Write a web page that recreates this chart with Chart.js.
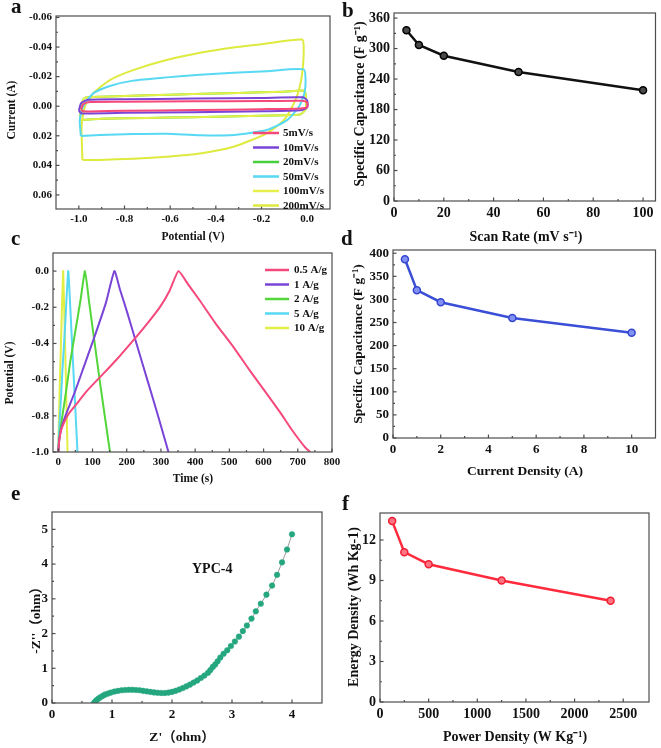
<!DOCTYPE html>
<html>
<head>
<meta charset="utf-8">
<script src="https://cdn.jsdelivr.net/npm/chart.js@4.4.1/dist/chart.umd.min.js"></script>
<style>
  html, body { margin: 0; padding: 0; background: #fff; }
  #wrap { position: relative; width: 661px; height: 748px; overflow: hidden; }
  #wrap canvas { position: absolute; left: 0; top: 0; }
</style>
</head>
<body>
<div id="wrap">
  <canvas id="pa" width="661" height="748"></canvas>
  <canvas id="pb" width="661" height="748"></canvas>
  <canvas id="pc" width="661" height="748"></canvas>
  <canvas id="pd" width="661" height="748"></canvas>
  <canvas id="pe" width="661" height="748"></canvas>
  <canvas id="pf" width="661" height="748"></canvas>
</div>
<script>
// ---- panel a : CV loops, [potential V, current A] ----
const cvLabels = ['5mV/s', '10mV/s', '20mV/s', '50mV/s', '100mV/s', '200mV/s'];
const cv5 = [[-0.99,0.002],[-0.98,-0.0015],[-0.95,-0.0028],[-0.8,-0.003],[-0.5,-0.0033],[-0.2,-0.0035],[-0.02,-0.0037],[0,-0.0025],[0,0.0005],[-0.03,0.0015],[-0.2,0.002],[-0.5,0.0026],[-0.8,0.0031],[-0.95,0.0035],[-0.985,0.0032],[-0.99,0.002]];
const cv10 = [[-1.0,0.003],[-0.99,-0.002],[-0.96,-0.0043],[-0.8,-0.0047],[-0.5,-0.0052],[-0.2,-0.0056],[-0.02,-0.006],[0,-0.004],[0,0.0008],[-0.03,0.0028],[-0.2,0.0034],[-0.5,0.004],[-0.8,0.0045],[-0.95,0.005],[-0.99,0.0047],[-1.0,0.003]];
const cv20 = [[-0.995,0.009],[-0.99,0],[-0.975,-0.0055],[-0.9,-0.0064],[-0.7,-0.0074],[-0.5,-0.0082],[-0.3,-0.009],[-0.1,-0.0098],[-0.015,-0.0105],[-0.007,-0.008],[-0.007,0.002],[-0.03,0.0055],[-0.1,0.0061],[-0.3,0.0068],[-0.5,0.0074],[-0.7,0.0079],[-0.9,0.0085],[-0.98,0.0092],[-0.995,0.009]];
const cv50 = [[-0.991,0.0201],[-0.996,0.0093],[-0.982,0.0004],[-0.937,-0.0087],[-0.864,-0.0137],[-0.762,-0.0173],[-0.616,-0.0195],[-0.469,-0.0213],[-0.323,-0.0226],[-0.177,-0.0237],[-0.015,-0.0249],[-0.007,-0.0177],[-0.012,-0.0087],[-0.036,0.0004],[-0.088,0.0094],[-0.177,0.0161],[-0.323,0.0195],[-0.469,0.0197],[-0.616,0.0186],[-0.762,0.0188],[-0.908,0.0195],[-0.991,0.0201]];
const cv100 = [[-0.995,0.009],[-0.99,0],[-0.975,-0.0055],[-0.9,-0.0064],[-0.7,-0.0074],[-0.5,-0.0082],[-0.3,-0.009],[-0.1,-0.0098],[-0.015,-0.0105],[-0.007,-0.008],[-0.007,0.002],[-0.03,0.0055],[-0.1,0.0061],[-0.3,0.0068],[-0.5,0.0074],[-0.7,0.0079],[-0.9,0.0085],[-0.98,0.0092],[-0.995,0.009]];
const cv200 = [[-0.984,0.0363],[-0.988,0.0139],[-0.974,0.0004],[-0.937,-0.0087],[-0.864,-0.0177],[-0.762,-0.0244],[-0.616,-0.0312],[-0.469,-0.0361],[-0.323,-0.0397],[-0.177,-0.0424],[-0.022,-0.0451],[-0.015,-0.0379],[-0.022,-0.0222],[-0.036,-0.0109],[-0.058,-0.0019],[-0.102,0.0094],[-0.177,0.0183],[-0.323,0.0274],[-0.469,0.0319],[-0.616,0.0341],[-0.762,0.0355],[-0.908,0.0363],[-0.984,0.0363]];
const aXMajor = [-1.0, -0.8, -0.6, -0.4, -0.2, 0];
const aXMinor = [-0.9, -0.7, -0.5, -0.3, -0.1];
const aYMajor = [-0.06, -0.04, -0.02, 0, 0.02, 0.04, 0.06];
const aYMinor = [-0.05, -0.03, -0.01, 0.01, 0.03, 0.05];

// ---- panel b ----
const scanRate = [5, 10, 20, 50, 100];
const capScan = [336, 307, 286, 254, 218];
const bXMajor = [0, 20, 40, 60, 80, 100];
const bXMinor = [10, 30, 50, 70, 90];
const bYMajor = [0, 60, 120, 180, 240, 300, 360];
const bYMinor = [30, 90, 150, 210, 270, 330];

// ---- panel c : GCD, [time s, potential V] ----
const gcdLabels = ['0.5 A/g', '1 A/g', '2 A/g', '5 A/g', '10 A/g'];
const gcd05 = [[0,-1.0],[3,-0.93],[8,-0.88],[15,-0.845],[30,-0.79],[54,-0.733],[80,-0.67],[122,-0.586],[170,-0.49],[219,-0.383],[260,-0.29],[297,-0.199],[325,-0.11],[351,0],[380,-0.075],[414,-0.164],[460,-0.29],[512,-0.42],[560,-0.55],[609,-0.677],[650,-0.785],[680,-0.87],[705,-0.935],[722,-0.975],[736,-1.0]];
const gcd1 = [[0,-1.0],[3,-0.93],[10,-0.86],[25,-0.78],[50,-0.66],[80,-0.5],[110,-0.34],[140,-0.17],[164,0],[180,-0.1],[200,-0.22],[230,-0.41],[260,-0.6],[290,-0.79],[322,-1.0]];
const gcd2 = [[0,-1.0],[2,-0.94],[8,-0.85],[20,-0.7],[35,-0.5],[50,-0.33],[65,-0.16],[78,0],[90,-0.17],[105,-0.38],[120,-0.59],[135,-0.79],[151,-1.0]];
const gcd5 = [[0,-1.0],[1,-0.93],[5,-0.8],[12,-0.55],[20,-0.3],[29,0],[35,-0.2],[42,-0.47],[49,-0.73],[56,-1.0]];
const gcd10 = [[0,-1.0],[1,-0.9],[4,-0.65],[8,-0.38],[14,0],[17,-0.2],[21,-0.5],[24,-0.75],[27,-1.0]];
const cXMajor = [0, 100, 200, 300, 400, 500, 600, 700, 800];
const cXMinor = [50, 150, 250, 350, 450, 550, 650, 750];
const cYMajor = [-1.0, -0.8, -0.6, -0.4, -0.2, 0];
const cYMinor = [-0.9, -0.7, -0.5, -0.3, -0.1];

// ---- panel d ----
const currentDensity = [0.5, 1, 2, 5, 10];
const capCurrent = [387, 320, 294, 260, 228];
const dXMajor = [0, 2, 4, 6, 8, 10];
const dXMinor = [1, 3, 5, 7, 9];
const dYMajor = [0, 50, 100, 150, 200, 250, 300, 350, 400];
const dYMinor = [25, 75, 125, 175, 225, 275, 325, 375];

// ---- panel e : Nyquist, [Z', -Z''] ----
const nyquist = [[0.70,0.00],[0.72,0.04],[0.74,0.08],[0.77,0.12],[0.80,0.16],[0.84,0.20],[0.88,0.24],[0.93,0.27],[0.98,0.30],[1.04,0.33],[1.10,0.35],[1.16,0.365],[1.22,0.375],[1.28,0.38],[1.34,0.38],[1.40,0.375],[1.46,0.365],[1.52,0.35],[1.58,0.335],[1.64,0.32],[1.70,0.305],[1.76,0.295],[1.82,0.29],[1.88,0.29],[1.94,0.30],[2.00,0.32],[2.06,0.35],[2.12,0.39],[2.18,0.43],[2.24,0.48],[2.30,0.53],[2.36,0.59],[2.42,0.65],[2.48,0.72],[2.54,0.79],[2.60,0.87],[2.64,0.95],[2.68,1.04],[2.72,1.11],[2.76,1.20],[2.805,1.31],[2.86,1.42],[2.921,1.52],[2.982,1.64],[3.048,1.77],[3.115,1.91],[3.181,2.07],[3.248,2.23],[3.325,2.43],[3.397,2.64],[3.48,2.86],[3.574,3.12],[3.668,3.38],[3.751,3.69],[3.834,4.05],[3.917,4.42],[4.0,4.86]];
const eXMajor = [0, 1, 2, 3, 4];
const eXMinor = [0.5, 1.5, 2.5, 3.5];
const eYMajor = [0, 1, 2, 3, 4, 5];
const eYMinor = [0.5, 1.5, 2.5, 3.5, 4.5];

// ---- panel f ----
const powerDensity = [125, 250, 500, 1250, 2370];
const energyDensity = [13.4, 11.1, 10.2, 9.0, 7.5];
const fXMajor = [0, 500, 1000, 1500, 2000, 2500];
const fXMinor = [250, 750, 1250, 1750, 2250];
const fYMajor = [0, 3, 6, 9, 12];
const fYMinor = [1.5, 4.5, 7.5, 10.5];

const SERIF = '"Liberation Serif", "Noto Sans CJK SC", serif';
Chart.defaults.animation = false;
Chart.defaults.events = [];
Chart.defaults.font.family = SERIF;

const pts = arr => arr.map(p => ({ x: p[0], y: p[1] }));
const zip = (xs, ys) => xs.map((x, i) => ({ x, y: ys[i] }));

// frame, inward ticks, titles, letter, legend, note
const panelPlugin = {
  id: 'panel',
  afterDraw(chart, args, o) {
    const ctx = chart.ctx, a = chart.chartArea;
    ctx.save();
    ctx.strokeStyle = '#4d4d4d';
    ctx.lineWidth = 1.2;
    ctx.strokeRect(a.left, a.top, a.right - a.left, a.bottom - a.top);
    ['x', 'y'].forEach(id => {
      const s = chart.scales[id];
      s.ticks.forEach(t => {
        const len = t.minor ? 2 : 3.5;
        const p = s.getPixelForValue(t.value);
        ctx.beginPath();
        if (id === 'x') { ctx.moveTo(p, a.bottom); ctx.lineTo(p, a.bottom - len); }
        else { ctx.moveTo(a.left, p); ctx.lineTo(a.left + len, p); }
        ctx.stroke();
      });
    });
    ctx.fillStyle = '#111';
    ctx.textAlign = 'left';
    ctx.textBaseline = 'alphabetic';
    ctx.font = 'bold ' + o.letterSize + 'px ' + SERIF;
    ctx.fillText(o.letter, o.letterX, o.letterY);

    ctx.font = 'bold ' + o.titleSize + 'px ' + SERIF;
    ctx.textAlign = 'center';
    ctx.textBaseline = 'middle';
    ctx.fillText(o.xTitle, o.xTitleX, o.xTitleY);
    ctx.save();
    ctx.translate(o.yTitleX, o.yTitleY);
    ctx.rotate(-Math.PI / 2);
    ctx.fillText(o.yTitle, 0, 0);
    ctx.restore();

    if (o.legend) {
      const L = o.legend;
      ctx.font = 'bold ' + L.size + 'px ' + SERIF;
      ctx.textAlign = 'left';
      chart.data.datasets.forEach((ds, i) => {
        const y = L.y + i * L.dy;
        ctx.strokeStyle = ds.borderColor;
        ctx.lineWidth = 2.5;
        ctx.beginPath();
        ctx.moveTo(L.x, y);
        ctx.lineTo(L.x + L.len, y);
        ctx.stroke();
        ctx.fillText(ds.label, L.x + L.len + L.gap, y + 0.5);
      });
    }
    if (o.note) {
      ctx.font = 'bold ' + o.note.size + 'px ' + SERIF;
      ctx.textAlign = 'center';
      ctx.fillText(o.note.text,
        chart.scales.x.getPixelForValue(o.note.x),
        chart.scales.y.getPixelForValue(o.note.y));
    }
    ctx.restore();
  }
};

const YW = 44, XH = 22;
function box(L, T, R, B) {
  return { left: L - YW, top: T, right: 661 - R, bottom: 748 - B - XH };
}

function axis(pos, min, max, major, minor, fmt, size, reverse) {
  return {
    type: 'linear', position: pos, min: min, max: max, reverse: !!reverse,
    grid: { display: false, drawTicks: false },
    border: { display: false },
    afterBuildTicks: s => {
      s.ticks = major.map(v => ({ value: v }))
        .concat(minor.map(v => ({ value: v, minor: true })))
        .sort((p, q) => p.value - q.value);
    },
    afterFit: s => { if (pos === 'left') s.width = YW; else s.height = XH; },
    ticks: {
      autoSkip: false, maxRotation: 0, minRotation: 0,
      padding: 4,
      color: '#111',
      font: { family: SERIF, weight: 'bold', size: size },
      callback: (v, i, t) => (t[i].minor ? '' : fmt(v))
    }
  };
}

function make(id, type, datasets, pad, xAxis, yAxis, panel) {
  return new Chart(document.getElementById(id), {
    type: type,
    data: { datasets: datasets },
    plugins: [panelPlugin],
    options: {
      responsive: false,
      layout: { padding: pad },
      scales: { x: xAxis, y: yAxis },
      plugins: { legend: { display: false }, tooltip: { enabled: false }, panel: panel }
    }
  });
}

const f0 = v => String(v);
const f1 = v => v.toFixed(1);
const f2 = v => v.toFixed(2);

function loop(label, data, color, order) {
  return { label: label, data: pts(data), showLine: true, borderColor: color, borderWidth: 2,
           pointRadius: 0, tension: 0.2, fill: false, order: order || 0 };
}

// a
const cvColors = ['#f5497c', '#7a44d6', '#45d03c', '#57d8f3', '#e6f048', '#dfea3e'];
make('pa', 'scatter', [
  loop(cvLabels[0], cv5, cvColors[0]),
  loop(cvLabels[1], cv10, cvColors[1]),
  loop(cvLabels[2], cv20, cvColors[2], 1),
  loop(cvLabels[3], cv50, cvColors[3]),
  loop(cvLabels[4], cv100, cvColors[4]),
  loop(cvLabels[5], cv200, cvColors[5])
], box(56, 16, 330, 209),
  axis('bottom', -1.1, 0.1, aXMajor, aXMinor, f1, 11),
  axis('left', -0.061, 0.0695, aYMajor, aYMinor, f2, 11, true),
  { letter: 'a', letterX: 11, letterY: 13, letterSize: 21,
    xTitle: 'Potential (V)', xTitleX: 193, xTitleY: 237,
    yTitle: 'Current (A)', yTitleX: 12, yTitleY: 110, titleSize: 11.5,
    legend: { x: 253, y: 133, dy: 14.5, len: 26, gap: 4, size: 11 } });

// b
make('pb', 'scatter', [{
  label: 'b', data: zip(scanRate, capScan), showLine: true,
  borderColor: '#111', borderWidth: 2.5, pointRadius: 3.5,
  pointBackgroundColor: '#4a4a4a', pointBorderColor: '#000', pointBorderWidth: 1.5
}], box(394, 13, 658, 201),
  axis('bottom', 0, 105, bXMajor, bXMinor, f0, 14),
  axis('left', 0, 370, bYMajor, bYMinor, f0, 14),
  { letter: 'b', letterX: 342, letterY: 17, letterSize: 21,
    xTitle: 'Scan Rate (mV s\u207B\u00B9)', xTitleX: 526, xTitleY: 237,
    yTitle: 'Specific Capacitance (F g\u207B\u00B9)', yTitleX: 360, yTitleY: 104, titleSize: 14,
    legend: false });

// c
const gcdColors = ['#f5497c', '#7a44d6', '#52d63a', '#57d8f3', '#e3ee45'];
make('pc', 'scatter', [
  loop(gcdLabels[0], gcd05, gcdColors[0]),
  loop(gcdLabels[1], gcd1, gcdColors[1]),
  loop(gcdLabels[2], gcd2, gcdColors[2]),
  loop(gcdLabels[3], gcd5, gcdColors[3]),
  loop(gcdLabels[4], gcd10, gcdColors[4])
].map(d => Object.assign(d, { tension: 0.15 })), box(53, 253, 332, 452),
  axis('bottom', -15.5, 800, cXMajor, cXMinor, f0, 11),
  axis('left', -1.0, 0.1, cYMajor, cYMinor, f1, 11),
  { letter: 'c', letterX: 11, letterY: 245, letterSize: 21,
    xTitle: 'Time (s)', xTitleX: 193, xTitleY: 479,
    yTitle: 'Potential (V)', yTitleX: 10, yTitleY: 373, titleSize: 11.5,
    legend: { x: 265, y: 270, dy: 14.5, len: 24, gap: 5, size: 11 } });

// d
make('pd', 'scatter', [{
  label: 'd', data: zip(currentDensity, capCurrent), showLine: true,
  borderColor: '#3a4ed6', borderWidth: 2.5, pointRadius: 3.5,
  pointBackgroundColor: '#8391f2', pointBorderColor: '#3446d0', pointBorderWidth: 1.5
}], box(393, 250, 658, 438),
  axis('bottom', 0, 11, dXMajor, dXMinor, f0, 13),
  axis('left', 0, 407, dYMajor, dYMinor, f0, 13),
  { letter: 'd', letterX: 341, letterY: 245, letterSize: 21,
    xTitle: 'Current Density (A)', xTitleX: 525, xTitleY: 472,
    yTitle: 'Specific Capacitance (F g\u207B\u00B9)', yTitleX: 359, yTitleY: 344, titleSize: 13.5,
    legend: false });

// e
make('pe', 'scatter', [{
  label: 'YPC-4', data: pts(nyquist), showLine: true,
  borderColor: '#9a9a9a', borderWidth: 1, pointRadius: 2.8,
  pointBackgroundColor: '#24a67e', pointBorderColor: '#24a67e', pointBorderWidth: 0.5
}], box(52, 512, 322, 703),
  axis('bottom', 0, 4.5, eXMajor, eXMinor, f0, 13),
  axis('left', 0, 5.5, eYMajor, eYMinor, f0, 13),
  { letter: 'e', letterX: 11, letterY: 500, letterSize: 21,
    xTitle: 'Z\'\uFF08ohm\uFF09', xTitleX: 182, xTitleY: 738,
    yTitle: '-Z\'\'\uFF08ohm\uFF09', yTitleX: 37, yTitleY: 617, titleSize: 13.5,
    legend: false,
    note: { text: 'YPC-4', x: 2.67, y: 3.86, size: 14 } });

// f
make('pf', 'scatter', [{
  label: 'f', data: zip(powerDensity, energyDensity), showLine: true,
  borderColor: '#ff2a3c', borderWidth: 2.5, pointRadius: 3.5,
  pointBackgroundColor: '#ff7382', pointBorderColor: '#f01f33', pointBorderWidth: 1.5
}], box(380, 513, 649, 702),
  axis('bottom', 0, 2765, fXMajor, fXMinor, f0, 14),
  axis('left', 0, 14, fYMajor, fYMinor, f0, 14),
  { letter: 'f', letterX: 342, letterY: 510, letterSize: 21,
    xTitle: 'Power Density (W Kg\u207B\u00B9)', xTitleX: 515, xTitleY: 737,
    yTitle: 'Energy Density (Wh Kg-1)', yTitleX: 354, yTitleY: 607, titleSize: 14,
    legend: false });
</script>
</body>
</html>
